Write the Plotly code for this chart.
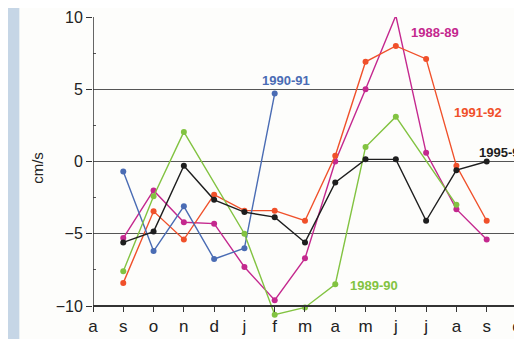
import plotly.graph_objects as go

months = ["a", "s", "o", "n", "d", "j", "f", "m", "a", "m", "j", "j", "a", "s", "o"]
xpos = list(range(len(months)))

# values from Sep (index 1) onward
s1988_89 = [None, -5.3, -2.0, -4.2, -4.3, -7.3, -9.6, -6.7, 0.0, 5.0, 10.1, 0.6, -3.3, -5.4]
s1991_92 = [None, -8.4, -3.45, -5.4, -2.3, -3.4, -3.4, -4.1, 0.4, 6.9, 8.0, 7.1, -0.3, -4.1]
s1990_91 = [None, -0.7, -6.2, -3.1, -6.75, -6.0, 4.7]
s1989_90 = [None, -7.6, -2.4, 2.05, None, -5.0, -10.6, -10.1, -8.5, 1.0, 3.1, None, -3.0]
s1995_96 = [None, -5.6, -4.85, -0.3, -2.65, -3.5, -3.85, -5.6, -1.45, 0.15, 0.15, -4.1, -0.6, 0.0]

series = [
    ("1988-89", s1988_89, "#c4288e"),
    ("1991-92", s1991_92, "#f0502a"),
    ("1990-91", s1990_91, "#4a6cb4"),
    ("1989-90", s1989_90, "#82c341"),
    ("1995-96", s1995_96, "#1e1e1e"),
]

labels = [
    ("1990-91", 6.38, 5.6, "#4a6cb4", "center"),
    ("1988-89", 11.3, 8.9, "#c4288e", "center"),
    ("1991-92", 12.7, 3.4, "#f0502a", "center"),
    ("1995-96", 12.68, 0.6, "#1e1e1e", "left"),
    ("1989-90", 9.28, -8.6, "#82c341", "center"),
]

YMIN, YMAX = -10.9, 10.0
xpos_frac = (-10 - YMIN) / (YMAX - YMIN)

fig = go.Figure()
for name, vals, col in series:
    fig.add_trace(go.Scatter(
        x=xpos[:len(vals)], y=vals, mode="lines+markers", name=name,
        connectgaps=True, cliponaxis=False,
        line=dict(color=col, width=1.4),
        marker=dict(color=col, size=6),
    ))

for txt, x, y, col, anc in labels:
    fig.add_annotation(x=x, y=y, text="<b>%s</b>" % txt, showarrow=False,
                       xanchor=anc, font=dict(color=col, size=13,
                                              family="Liberation Sans, Arial, sans-serif"))

# vertical axis line (from -10 to 10)
fig.add_shape(type="line", xref="x", yref="y", x0=0, x1=0, y0=-10, y1=10,
              line=dict(color="#333", width=1.5), layer="above")
# scanned page edge strip
fig.add_shape(type="rect", xref="paper", yref="paper", x0=-93/429, x1=-74/429, y0=-1, y1=2,
              fillcolor="#c6d6e6", line=dict(width=0), layer="below")

fig.update_layout(
    width=514, height=331,
    margin=dict(l=85, r=0, t=9, b=20),
    paper_bgcolor="#fdfdfb", plot_bgcolor="#fdfdfb",
    showlegend=False,
    font=dict(family="Liberation Sans, Arial, sans-serif", color="#222"),
    xaxis=dict(range=[0, 14.1], tickvals=xpos, ticktext=months, showgrid=False,
               zeroline=False, showline=True, linecolor="#333", linewidth=1.5,
               anchor="free", position=xpos_frac, ticklabeloverflow="allow",
               ticks="outside", ticklen=5, tickcolor="#333",
               tickfont=dict(size=17, color="#222")),
    yaxis=dict(range=[YMIN, YMAX], tickvals=[-10, -5, 0, 5, 10], showgrid=True,
               gridcolor="#555", gridwidth=1.2, zeroline=False,
               showline=False,
               ticks="outside", ticklen=6, tickcolor="#333",
               minor=dict(tickvals=[-7.5, -2.5, 2.5, 7.5], ticks="inside", ticklen=3, tickcolor="#555"),
               tickfont=dict(size=16, color="#222"),
               title=dict(text="cm/s", font=dict(size=15, color="#222"), standoff=8)),
)

fig.write_html("out.html")
